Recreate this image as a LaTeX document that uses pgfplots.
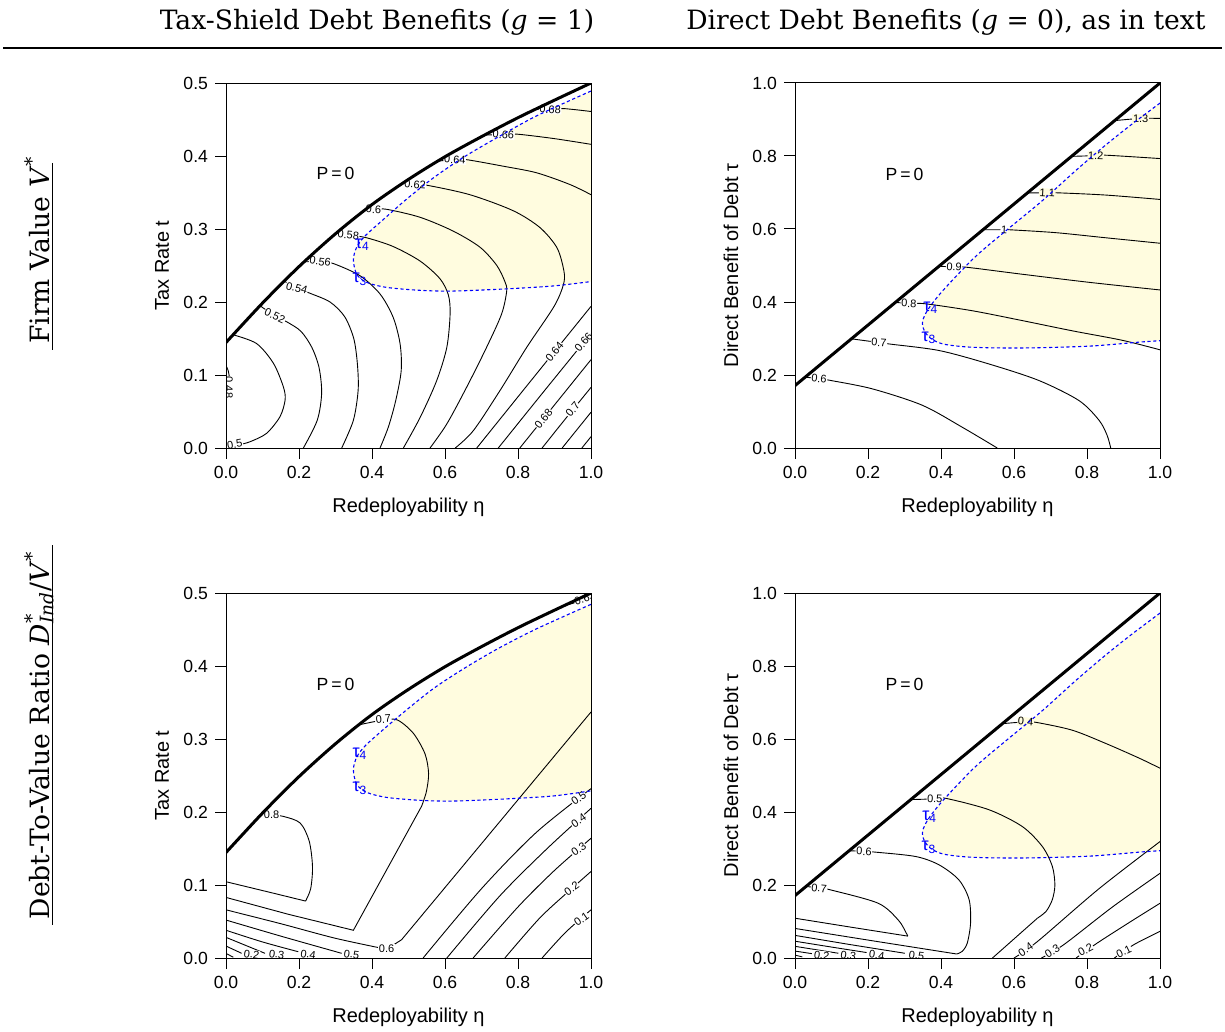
\documentclass[border=0pt]{standalone}
\usepackage{fontspec}
\setmainfont{Liberation Sans}
\newfontfamily\titlefont{DejaVu Serif}
\usepackage{pgfplots}
\pgfplotsset{compat=1.18}
\definecolor{yel}{HTML}{FFFCDF}
\definecolor{tblue}{RGB}{0,0,255}
\pgfplotsset{
 panel/.style={
   scale only axis, width=182.5pt, height=182.5pt,
   xmin=0, xmax=1, ymin=0,
   axis on top, clip=true,
   axis line style={line width=0.5pt},
   tick align=outside, tick pos=left,
   major tick length=5.5pt,
   tick style={line width=0.5pt, black},
   xtick={0,0.2,0.4,0.6,0.8,1},
   ticklabel style={font=\fontsize{8.8}{10}\selectfont},
   xticklabel style={/pgf/number format/fixed,/pgf/number format/fixed zerofill,/pgf/number format/precision=1},
   yticklabel style={/pgf/number format/fixed,/pgf/number format/fixed zerofill,/pgf/number format/precision=1},
   /pgf/number format/assume math mode=true,
   xlabel={Redeployability η},
   label style={font=\fontsize{8.5}{10}\selectfont},
   every axis x label/.style={at={(axis description cs:0.5,-0.1616)}, anchor=center},
   every axis y label/.style={at={(axis description cs:-0.1753,0.5)}, anchor=center, rotate=90},
 },
 cl/.style={black, line width=0.45pt, smooth, tension=0.5, no markers},
 cs/.style={black, line width=0.45pt, sharp plot, no markers},
 thb/.style={black, line width=1.5pt, smooth, tension=0.5, no markers},
 dsh/.style={tblue, line width=0.55pt, dash pattern=on 1.6pt off 1.3pt, smooth, tension=0.5, no markers},
 yfill/.style={fill=yel, draw=none, smooth, tension=0.5, no markers},
}
\tikzset{
 lab/.style={font=\fontsize{5.5}{6}\selectfont, fill=white, inner sep=0.3pt},
 laby/.style={font=\fontsize{5.5}{6}\selectfont, fill=yel, inner sep=0.3pt},
 tau/.style={font=\fontsize{9}{10}\selectfont, text=tblue, inner sep=0pt},
 pz/.style={font=\fontsize{8.8}{10}\selectfont, inner sep=0pt},
}
\begin{document}
\begin{tikzpicture}
\useasboundingbox (0,0) rectangle (612.5pt,-516pt);
% titles
\node[anchor=base, font=\titlefont\fontsize{13.3}{15}\selectfont] at (188.5pt,-15pt) {Tax-Shield Debt Benefits (\textit{g} = 1)};
\node[anchor=base, font=\titlefont\fontsize{13.3}{15}\selectfont] at (473pt,-15pt) {Direct Debt Benefits (\textit{g} = 0), as in text};
\draw[line width=1pt] (1.5pt,-24pt) -- (611pt,-24pt);
\node[anchor=base, rotate=90, font=\titlefont\fontsize{13.3}{15}\selectfont] at (24.5pt,-125pt) {Firm Value \textit{V}\textsuperscript{*}};
\draw[line width=0.5pt] (26pt,-81.5pt) -- (26pt,-175pt);
\node[anchor=base, rotate=90, font=\titlefont\fontsize{13.3}{15}\selectfont] at (24.5pt,-367.5pt) {Debt-To-Value Ratio \textit{D}\rlap{\textsuperscript{*}}\textsubscript{\textit{Ind}}/\textit{V}\textsuperscript{*}};
\draw[line width=0.5pt] (26pt,-272.5pt) -- (26pt,-462.5pt);

% ================= TL =================
\begin{axis}[panel, at={(113pt,-224pt)}, anchor=south west, ymax=0.5, ytick={0,0.1,0.2,0.3,0.4,0.5}, ylabel={Tax Rate t}]
\addplot[yfill] coordinates {(1,0.489) (0.851,0.455) (0.742,0.425) (0.650,0.398) (0.568,0.370) (0.495,0.341) (0.431,0.313) (0.381,0.2905) (0.358,0.275) (0.349,0.258) (0.358,0.238) (0.385,0.227) (0.440,0.220) (0.532,0.216) (0.623,0.215) (0.769,0.218) (0.897,0.222) (1,0.228)} -- cycle;
\addplot[cl] coordinates {(0,0.113) (0.006,0.106) (0.009,0.098)};
\addplot[cl] coordinates {(0.020,0.155) (0.084,0.143) (0.130,0.116) (0.157,0.084) (0.162,0.066) (0.148,0.043) (0.111,0.020) (0.066,0.0086) (0.040,0.005)};
\addplot[cl] coordinates {(0.093,0.195) (0.134,0.181) (0.166,0.173) (0.205,0.160) (0.235,0.138) (0.255,0.110) (0.262,0.075) (0.250,0.038) (0.212,0)};
\addplot[cl] coordinates {(0.16,0.2285) (0.194,0.219) (0.230,0.212) (0.285,0.200) (0.325,0.180) (0.350,0.150) (0.360,0.115) (0.362,0.079) (0.349,0.038) (0.317,0)};
\addplot[cl] coordinates {(0.215,0.255) (0.258,0.2555) (0.294,0.2527) (0.367,0.236) (0.422,0.211) (0.458,0.179) (0.477,0.1425) (0.480,0.106) (0.465,0.065) (0.445,0.029) (0.422,0)};
\addplot[cl] coordinates {(0.305,0.2955) (0.335,0.292) (0.385,0.288) (0.458,0.276) (0.532,0.256) (0.586,0.232) (0.609,0.210) (0.614,0.184) (0.605,0.138) (0.577,0.092) (0.532,0.042) (0.486,0)};
\addplot[cl] coordinates {(0.38,0.3255) (0.404,0.327) (0.440,0.327) (0.532,0.316) (0.623,0.297) (0.696,0.275) (0.742,0.250) (0.764,0.228) (0.769,0.215) (0.755,0.1835) (0.714,0.138) (0.659,0.083) (0.605,0.033) (0.559,0)};
\addplot[cl] coordinates {(0.485,0.363) (0.518,0.361) (0.550,0.360) (0.668,0.347) (0.787,0.325) (0.860,0.302) (0.906,0.275) (0.924,0.247) (0.926,0.227) (0.900,0.195) (0.824,0.138) (0.751,0.079) (0.678,0.024) (0.628,0)};
\addplot[cl] coordinates {(0.58,0.393) (0.627,0.395) (0.659,0.395) (0.760,0.386) (0.851,0.377) (0.942,0.361) (1,0.347)};
\addplot[cl] coordinates {(0.71,0.429) (0.760,0.429) (0.796,0.430) (0.897,0.424) (1,0.416)};
\addplot[cl] coordinates {(0.85,0.4645) (0.888,0.4636) (0.924,0.465) (1,0.461)};
\addplot[cl] coordinates {(0.687,0) (0.84,0.095) (1,0.194)};
\addplot[cl] coordinates {(0.746,0) (0.87,0.077) (1,0.157)};
\addplot[cl] coordinates {(0.805,0) (0.90,0.059) (1,0.121)};
\addplot[cl] coordinates {(0.866,0) (0.93,0.040) (1,0.083)};
\addplot[cl] coordinates {(0.921,0) (1,0.049)};
\addplot[cl] coordinates {(0.975,0) (1,0.0155)};
\node[lab, rotate=-90] at (axis cs:0.008,0.083) {0.48};
\node[lab, rotate=10] at (axis cs:0.024,0.005) {0.5};
\node[lab, rotate=-25] at (axis cs:0.134,0.181) {0.52};
\node[lab, rotate=-15] at (axis cs:0.194,0.219) {0.54};
\node[lab, rotate=-8] at (axis cs:0.258,0.2555) {0.56};
\node[lab, rotate=-5] at (axis cs:0.335,0.292) {0.58};
\node[lab, rotate=-2] at (axis cs:0.404,0.327) {0.6};
\node[lab, rotate=-4] at (axis cs:0.518,0.361) {0.62};
\node[lab, rotate=-4] at (axis cs:0.627,0.395) {0.64};
\node[lab, rotate=-4] at (axis cs:0.760,0.429) {0.66};
\node[lab, rotate=-2] at (axis cs:0.888,0.4636) {0.68};
\node[lab, rotate=50] at (axis cs:0.900,0.132) {0.64};
\node[lab, rotate=50] at (axis cs:0.980,0.145) {0.66};
\node[lab, rotate=50] at (axis cs:0.870,0.0405) {0.68};
\node[lab, rotate=50] at (axis cs:0.950,0.0525) {0.7};
\addplot[dsh] coordinates {(1,0.489) (0.851,0.455) (0.742,0.425) (0.650,0.398) (0.568,0.370) (0.495,0.341) (0.431,0.313) (0.381,0.2905) (0.358,0.275) (0.349,0.258) (0.358,0.238) (0.385,0.227) (0.440,0.220) (0.532,0.216) (0.623,0.215) (0.769,0.218) (0.897,0.222) (1,0.228)};
\addplot[thb] coordinates {(0,0.1445) (0.1,0.1985) (0.2,0.2485) (0.3,0.2935) (0.4,0.3335) (0.5,0.368) (0.6,0.399) (0.7,0.4265) (0.8,0.4525) (0.9,0.4765) (1,0.5)};
\node[tau] at (axis cs:0.374,0.278) {τ\textsubscript{4}};
\node[tau] at (axis cs:0.367,0.231) {τ\textsubscript{3}};
\node[pz] at (axis cs:0.30,0.376) {P\,=\,0};
\end{axis}

% ================= TR =================
\begin{axis}[panel, at={(397.5pt,-224pt)}, anchor=south west, ymax=1, ytick={0,0.2,0.4,0.6,0.8,1}, ylabel={Direct Benefit of Debt τ}]
\addplot[yfill] coordinates {(1,0.945) (0.924,0.888) (0.851,0.830) (0.769,0.760) (0.678,0.678) (0.586,0.602) (0.495,0.525) (0.413,0.440) (0.376,0.396) (0.356,0.365) (0.349,0.342) (0.356,0.318) (0.375,0.298) (0.410,0.284) (0.486,0.276) (0.623,0.274) (0.805,0.279) (0.942,0.290) (1,0.294)} -- cycle;
\addplot[cl] coordinates {(0.028,0.194) (0.066,0.190) (0.098,0.185) (0.212,0.162) (0.349,0.117) (0.458,0.057) (0.554,0)};
\addplot[cl] coordinates {(0.155,0.299) (0.230,0.289) (0.258,0.285) (0.395,0.267) (0.532,0.230) (0.668,0.185) (0.778,0.130) (0.833,0.076) (0.855,0.035) (0.865,0)};
\addplot[cl] coordinates {(0.275,0.399) (0.312,0.396) (0.358,0.395) (0.486,0.376) (0.623,0.349) (0.760,0.321) (0.897,0.295) (1,0.269)};
\addplot[cl] coordinates {(0.395,0.498) (0.436,0.496) (0.472,0.495) (0.623,0.476) (0.805,0.454) (1,0.433)};
\addplot[cl] coordinates {(0.515,0.598) (0.573,0.598) (0.586,0.598) (0.714,0.590) (0.851,0.576) (1,0.561)};
\addplot[cl] coordinates {(0.637,0.699) (0.691,0.699) (0.723,0.699) (0.851,0.693) (1,0.681)};
\addplot[cl] coordinates {(0.758,0.799) (0.824,0.801) (0.856,0.802) (1,0.793)};
\addplot[cl] coordinates {(0.876,0.897) (0.947,0.903) (1,0.903)};
\node[lab, rotate=-6] at (axis cs:0.066,0.190) {0.6};
\node[lab, rotate=-4] at (axis cs:0.230,0.289) {0.7};
\node[lab, rotate=-3] at (axis cs:0.312,0.396) {0.8};
\node[lab, rotate=-3] at (axis cs:0.436,0.496) {0.9};
\node[lab, rotate=-3] at (axis cs:0.573,0.598) {1};
\node[laby, rotate=-3] at (axis cs:0.691,0.699) {1.1};
\node[laby, rotate=-2] at (axis cs:0.824,0.801) {1.2};
\node[laby, rotate=0] at (axis cs:0.947,0.903) {1.3};
\addplot[dsh] coordinates {(1,0.945) (0.924,0.888) (0.851,0.830) (0.769,0.760) (0.678,0.678) (0.586,0.602) (0.495,0.525) (0.413,0.440) (0.376,0.396) (0.356,0.365) (0.349,0.342) (0.356,0.318) (0.375,0.298) (0.410,0.284) (0.486,0.276) (0.623,0.274) (0.805,0.279) (0.942,0.290) (1,0.294)};
\addplot[black, line width=1.5pt, no markers] coordinates {(0,0.171) (1,1)};
\node[tau] at (axis cs:0.372,0.385) {τ\textsubscript{4}};
\node[tau] at (axis cs:0.367,0.303) {τ\textsubscript{3}};
\node[pz] at (axis cs:0.30,0.75) {P\,=\,0};
\end{axis}

% ================= BL =================
\begin{axis}[panel, at={(113pt,-479pt)}, anchor=south west, ymax=0.5, ytick={0,0.1,0.2,0.3,0.4,0.5}, ylabel={Tax Rate t}]
\addplot[yfill] coordinates {(1,0.4845) (0.851,0.451) (0.742,0.423) (0.650,0.396) (0.568,0.369) (0.495,0.340) (0.431,0.313) (0.381,0.2905) (0.358,0.275) (0.349,0.258) (0.358,0.238) (0.385,0.227) (0.440,0.220) (0.532,0.216) (0.623,0.215) (0.769,0.218) (0.897,0.222) (1,0.229)} -- cycle;
\addplot[cl] coordinates {(0.100,0.1985) (0.125,0.196) (0.157,0.194) (0.203,0.185) (0.228,0.160) (0.237,0.125) (0.232,0.095) (0.218,0.078)};
\addplot[cs] coordinates {(0.218,0.078) (0.12,0.090) (0,0.1045)};
\addplot[cl] coordinates {(0.365,0.3195) (0.431,0.326) (0.470,0.326) (0.513,0.308) (0.545,0.280) (0.555,0.253) (0.549,0.228) (0.536,0.208)};
\addplot[cs] coordinates {(0.536,0.208) (0.349,0.038) (0.17,0.060) (0,0.083)};
\addplot[cl] coordinates {(0,0.066) (0.15,0.047) (0.30,0.027) (0.44,0.012)};
\addplot[cs] coordinates {(0.44,0.012) (0.481,0.025) (1,0.337)};
\addplot[cl] coordinates {(0.93,0.483) (1,0.493)};
\addplot[cl] coordinates {(0,0.052) (0.15,0.030) (0.317,0.0064)};
\addplot[cl] coordinates {(0,0.038) (0.10,0.022) (0.198,0.0086)};
\addplot[cl] coordinates {(0,0.0283) (0.107,0.0064)};
\addplot[cl] coordinates {(0,0.0164) (0.043,0.0064)};
\addplot[cl] coordinates {(0,0.0064) (0.02,0.001)};
\addplot[cl] coordinates {(0.54,0) (0.70,0.095) (0.85,0.172) (1,0.232)};
\addplot[cl] coordinates {(0.605,0) (0.75,0.085) (0.88,0.150) (1,0.205)};
\addplot[cl] coordinates {(0.677,0) (0.80,0.070) (0.90,0.120) (1,0.164)};
\addplot[cl] coordinates {(0.764,0) (0.86,0.055) (0.947,0.095) (1,0.1185)};
\addplot[cl] coordinates {(0.866,0) (0.93,0.035) (1,0.066)};
\node[lab] at (axis cs:0.125,0.196) {0.8};
\node[lab, rotate=5] at (axis cs:0.431,0.327) {0.7};
\node[lab, rotate=18] at (axis cs:0.975,0.4915) {0.6};
\node[lab] at (axis cs:0.44,0.013) {0.6};
\node[lab, rotate=-8] at (axis cs:0.344,0.005) {0.5};
\node[lab, rotate=-8] at (axis cs:0.225,0.005) {0.4};
\node[lab, rotate=-8] at (axis cs:0.139,0.005) {0.3};
\node[lab, rotate=-8] at (axis cs:0.070,0.005) {0.2};
\node[lab, rotate=35] at (axis cs:0.966,0.219) {0.5};
\node[lab, rotate=35] at (axis cs:0.966,0.188) {0.4};
\node[lab, rotate=35] at (axis cs:0.966,0.149) {0.3};
\node[lab, rotate=35] at (axis cs:0.947,0.095) {0.2};
\node[lab, rotate=35] at (axis cs:0.974,0.053) {0.1};
\addplot[dsh] coordinates {(1,0.4845) (0.851,0.451) (0.742,0.423) (0.650,0.396) (0.568,0.369) (0.495,0.340) (0.431,0.313) (0.381,0.2905) (0.358,0.275) (0.349,0.258) (0.358,0.238) (0.385,0.227) (0.440,0.220) (0.532,0.216) (0.623,0.215) (0.769,0.218) (0.897,0.222) (1,0.229)};
\addplot[thb] coordinates {(0,0.1445) (0.1,0.1985) (0.2,0.2485) (0.3,0.2935) (0.4,0.3335) (0.5,0.368) (0.6,0.399) (0.7,0.4265) (0.8,0.4525) (0.9,0.4765) (1,0.5)};
\node[tau] at (axis cs:0.367,0.280) {τ\textsubscript{4}};
\node[tau] at (axis cs:0.367,0.2325) {τ\textsubscript{3}};
\node[pz] at (axis cs:0.30,0.375) {P\,=\,0};
\end{axis}

% ================= BR =================
\begin{axis}[panel, at={(397.5pt,-479pt)}, anchor=south west, ymax=1, ytick={0,0.2,0.4,0.6,0.8,1}, ylabel={Direct Benefit of Debt τ}]
\addplot[yfill] coordinates {(1,0.945) (0.924,0.888) (0.851,0.830) (0.769,0.760) (0.678,0.678) (0.586,0.602) (0.495,0.525) (0.413,0.440) (0.376,0.396) (0.356,0.365) (0.349,0.342) (0.356,0.318) (0.375,0.298) (0.410,0.284) (0.486,0.276) (0.623,0.274) (0.805,0.279) (0.942,0.290) (1,0.294)} -- cycle;
\addplot[cl] coordinates {(0.568,0.642) (0.632,0.647) (0.664,0.645) (0.760,0.624) (0.851,0.588) (0.942,0.548) (1,0.520)};
\addplot[cl] coordinates {(0.317,0.434) (0.383,0.436) (0.413,0.4375) (0.532,0.406) (0.623,0.360) (0.678,0.305) (0.705,0.251) (0.712,0.200) (0.705,0.160) (0.688,0.128) (0.664,0.109)};
\addplot[cs] coordinates {(0.664,0.109) (0.541,0)};
\addplot[cl] coordinates {(0.600,0) (0.664,0.045) (0.833,0.190) (1,0.319)};
\addplot[cl] coordinates {(0.675,0) (0.737,0.037) (0.87,0.140) (1,0.232)};
\addplot[cl] coordinates {(0.77,0) (0.828,0.041) (0.92,0.100) (1,0.150)};
\addplot[cl] coordinates {(0.875,0) (0.929,0.037) (1,0.073)};
\addplot[cl] coordinates {(0.03,0.196) (0.066,0.192) (0.100,0.186) (0.228,0.150) (0.283,0.104) (0.305,0.068) (0.309,0.060)};
\addplot[cs] coordinates {(0.309,0.060) (0.15,0.085) (0,0.109)};
\addplot[cl] coordinates {(0.148,0.294) (0.189,0.292) (0.221,0.290) (0.331,0.278) (0.395,0.255) (0.449,0.214) (0.477,0.160) (0.481,0.096) (0.472,0.041) (0.458,0.018) (0.443,0.011)};
\addplot[cs] coordinates {(0.443,0.011) (0.22,0.046) (0,0.081)};
\addplot[cl] coordinates {(0,0.062) (0.15,0.037) (0.301,0.013)};
\addplot[cl] coordinates {(0,0.046) (0.10,0.030) (0.196,0.015)};
\addplot[cl] coordinates {(0,0.032) (0.119,0.013)};
\addplot[cl] coordinates {(0,0.019) (0.046,0.012)};
\addplot[cl] coordinates {(0,0.008) (0.02,0.003)};
\node[laby, rotate=-5] at (axis cs:0.632,0.647) {0.4};
\node[lab, rotate=-2] at (axis cs:0.383,0.436) {0.5};
\node[lab, rotate=-5] at (axis cs:0.066,0.191) {0.7};
\node[lab, rotate=-3] at (axis cs:0.189,0.292) {0.6};
\node[lab, rotate=35] at (axis cs:0.632,0.023) {0.4};
\node[lab, rotate=32] at (axis cs:0.705,0.018) {0.3};
\node[lab, rotate=28] at (axis cs:0.796,0.022) {0.2};
\node[lab, rotate=26] at (axis cs:0.901,0.018) {0.1};
\node[lab, rotate=-8] at (axis cs:0.333,0.007) {0.5};
\node[lab, rotate=-8] at (axis cs:0.224,0.008) {0.4};
\node[lab, rotate=-8] at (axis cs:0.146,0.007) {0.3};
\node[lab, rotate=-8] at (axis cs:0.073,0.007) {0.2};
\addplot[dsh] coordinates {(1,0.945) (0.924,0.888) (0.851,0.830) (0.769,0.760) (0.678,0.678) (0.586,0.602) (0.495,0.525) (0.413,0.440) (0.376,0.396) (0.356,0.365) (0.349,0.342) (0.356,0.318) (0.375,0.298) (0.410,0.284) (0.486,0.276) (0.623,0.274) (0.805,0.279) (0.942,0.290) (1,0.294)};
\addplot[black, line width=1.5pt, no markers] coordinates {(0,0.171) (1,1)};
\node[tau] at (axis cs:0.369,0.387) {τ\textsubscript{4}};
\node[tau] at (axis cs:0.367,0.3035) {τ\textsubscript{3}};
\node[pz] at (axis cs:0.30,0.75) {P\,=\,0};
\end{axis}
\end{tikzpicture}
\end{document}
